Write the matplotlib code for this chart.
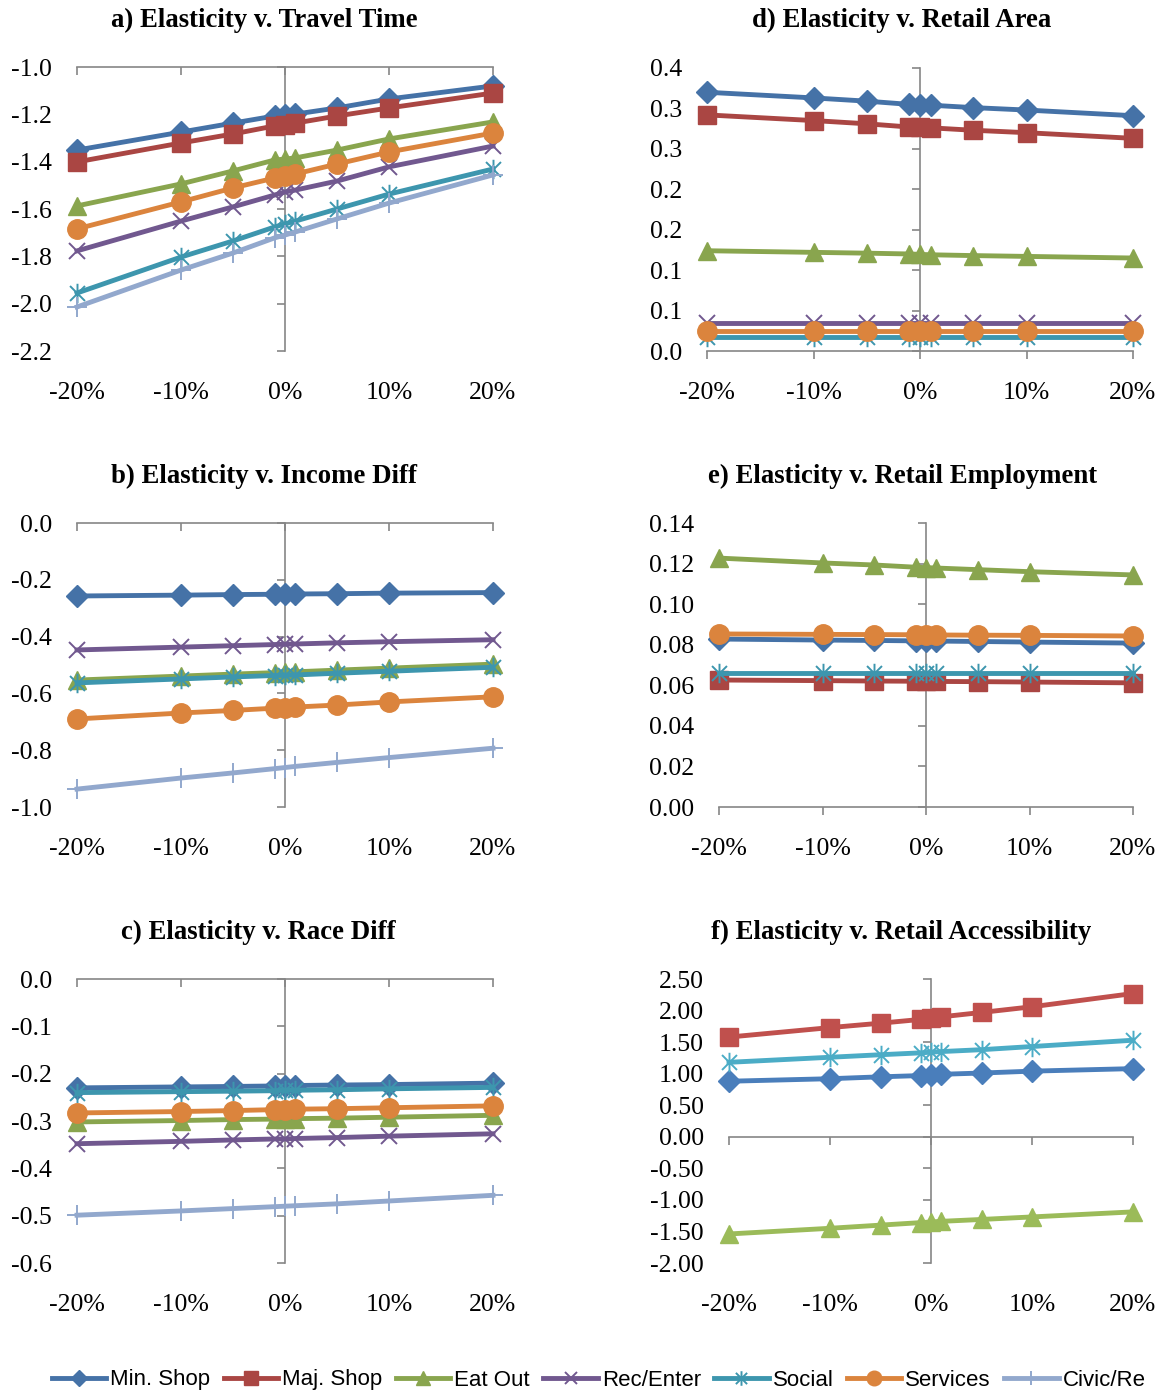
import numpy as np
import matplotlib
matplotlib.use("Agg")
import matplotlib.pyplot as plt
from matplotlib.path import Path
from matplotlib.lines import Line2D

# x positions: change in the input variable
pct_change = [-0.20, -0.10, -0.05, -0.01, 0.0, 0.01, 0.05, 0.10, 0.20]
series_names = ["Min. Shop", "Maj. Shop", "Eat Out", "Rec/Enter", "Social", "Services", "Civic/Re"]

# a) travel time
travel_time = {
    "Min. Shop": [-1.351, -1.275, -1.237, -1.207, -1.203, -1.199, -1.173, -1.135, -1.080],
    "Maj. Shop": [-1.401, -1.321, -1.283, -1.249, -1.245, -1.237, -1.207, -1.173, -1.110],
    "Eat Out":   [-1.587, -1.494, -1.439, -1.393, -1.389, -1.384, -1.351, -1.304, -1.232],
    "Rec/Enter": [-1.777, -1.651, -1.591, -1.541, -1.528, -1.520, -1.482, -1.422, -1.334],
    "Social":    [-1.955, -1.803, -1.735, -1.676, -1.663, -1.651, -1.600, -1.537, -1.431],
    "Services":  [-1.684, -1.570, -1.511, -1.469, -1.461, -1.452, -1.410, -1.359, -1.279],
    "Civic/Re":  [-2.014, -1.858, -1.786, -1.722, -1.710, -1.697, -1.642, -1.575, -1.456],
}
# b) income difference
income_diff = {
    "Min. Shop": [-0.257, -0.254, -0.252, -0.251, -0.250, -0.250, -0.249, -0.247, -0.245],
    "Rec/Enter": [-0.447, -0.437, -0.432, -0.428, -0.427, -0.426, -0.422, -0.418, -0.411],
    "Eat Out":   [-0.553, -0.539, -0.532, -0.527, -0.526, -0.524, -0.518, -0.511, -0.497],
    "Social":    [-0.563, -0.549, -0.542, -0.537, -0.536, -0.535, -0.529, -0.522, -0.508],
    "Services":  [-0.690, -0.669, -0.660, -0.652, -0.650, -0.648, -0.641, -0.630, -0.612],
    "Civic/Re":  [-0.937, -0.898, -0.880, -0.865, -0.861, -0.857, -0.843, -0.826, -0.793],
}
# c) race difference
race_diff = {
    "Min. Shop": [-0.230, -0.228, -0.227, -0.226, -0.225, -0.225, -0.224, -0.223, -0.220],
    "Eat Out":   [-0.302, -0.299, -0.297, -0.296, -0.296, -0.295, -0.294, -0.292, -0.288],
    "Rec/Enter": [-0.348, -0.343, -0.340, -0.338, -0.338, -0.337, -0.335, -0.332, -0.327],
    "Social":    [-0.240, -0.238, -0.237, -0.236, -0.235, -0.235, -0.234, -0.232, -0.229],
    "Services":  [-0.283, -0.280, -0.278, -0.276, -0.276, -0.275, -0.274, -0.272, -0.268],
    "Civic/Re":  [-0.499, -0.490, -0.485, -0.481, -0.480, -0.479, -0.475, -0.469, -0.457],
}
# d) retail area
retail_area = {
    "Min. Shop": [0.320, 0.313, 0.309, 0.305, 0.304, 0.304, 0.301, 0.298, 0.291],
    "Maj. Shop": [0.292, 0.285, 0.281, 0.277, 0.277, 0.276, 0.273, 0.270, 0.263],
    "Eat Out":   [0.124, 0.122, 0.121, 0.120, 0.1195, 0.119, 0.118, 0.117, 0.115],
    "Rec/Enter": [0.035, 0.035, 0.035, 0.035, 0.035, 0.035, 0.035, 0.035, 0.035],
    "Social":    [0.017, 0.017, 0.017, 0.017, 0.017, 0.017, 0.017, 0.017, 0.017],
    "Services":  [0.025, 0.025, 0.025, 0.025, 0.025, 0.025, 0.025, 0.025, 0.025],
}
# e) retail employment
retail_emp = {
    "Min. Shop": [0.0828, 0.0823, 0.0821, 0.0819, 0.0818, 0.0818, 0.0816, 0.0813, 0.0808],
    "Maj. Shop": [0.0626, 0.0623, 0.0621, 0.0620, 0.0620, 0.0619, 0.0618, 0.0616, 0.0612],
    "Eat Out":   [0.1227, 0.1203, 0.1193, 0.1182, 0.1180, 0.1178, 0.1170, 0.1160, 0.1144],
    "Social":    [0.0660, 0.0660, 0.0660, 0.0660, 0.0660, 0.0660, 0.0660, 0.0660, 0.0660],
    "Services":  [0.0853, 0.0851, 0.0850, 0.0849, 0.0849, 0.0848, 0.0847, 0.0846, 0.0843],
}
# f) retail accessibility
retail_access = {
    "Min. Shop": [0.88, 0.92, 0.95, 0.97, 0.98, 0.99, 1.01, 1.04, 1.08],
    "Maj. Shop": [1.58, 1.73, 1.80, 1.86, 1.88, 1.90, 1.97, 2.06, 2.27],
    "Eat Out":   [-1.54, -1.45, -1.40, -1.36, -1.35, -1.34, -1.31, -1.27, -1.19],
    "Social":    [1.18, 1.26, 1.30, 1.33, 1.34, 1.35, 1.38, 1.43, 1.53],
}

x_ticks = [-0.20, -0.10, 0.0, 0.10, 0.20]
x_labels = ["-20%", "-10%", "0%", "10%", "20%"]
d_tick_labels = ["0.0", "0.1", "0.1", "0.2", "0.2", "0.3", "0.3", "0.4"]

# asterisk marker (x with a vertical bar), like Excel's "star"
star = Path([(-1, -1), (1, 1), (-1, 1), (1, -1), (0, -1.3), (0, 1.3)],
            [Path.MOVETO, Path.LINETO, Path.MOVETO, Path.LINETO, Path.MOVETO, Path.LINETO])

colors = {"Min. Shop": "#4572A7", "Maj. Shop": "#AA4643", "Eat Out": "#89A54E",
          "Rec/Enter": "#71588F", "Social": "#3D96AE", "Services": "#DB843D",
          "Civic/Re": "#92A8CD"}
colors_f = {"Min. Shop": "#4A7EBB", "Maj. Shop": "#C0504D", "Eat Out": "#9BBB59",
            "Social": "#4BACC6"}
styles = {"Min. Shop": dict(marker="D", ms=11),
          "Maj. Shop": dict(marker="s", ms=13),
          "Eat Out": dict(marker="^", ms=13),
          "Rec/Enter": dict(marker="x", ms=12, mew=1.4),
          "Social": dict(marker=star, ms=14, mew=1.4),
          "Services": dict(marker="o", ms=14),
          "Civic/Re": dict(marker="+", ms=14, mew=1.4)}

W, H = 1160, 1395
fig = plt.figure(figsize=(W / 100, H / 100), dpi=100)
serif = ["Liberation Serif", "DejaVu Serif"]
axis_gray = "#868686"


def px_axes(l, r, t, b):
    return fig.add_axes([l / W, 1 - b / H, (r - l) / W, (b - t) / H])


def panel(ax, data, ylim, yticks, ylabels, ycross, title, title_x, title_y, cols):
    for name in series_names:
        if name not in data:
            continue
        ax.plot(pct_change, data[name], color=cols[name], mec=cols[name], mfc=cols[name],
                lw=3.5, clip_on=False, zorder=3, **styles[name])
    ax.set_xlim(-0.2, 0.2)
    ax.set_ylim(*ylim)
    for s in ax.spines.values():
        s.set_visible(False)
    # axes lines crossing like in Excel
    ax.plot([-0.2, 0.2], [ycross, ycross], color=axis_gray, lw=1.2, clip_on=False, zorder=2)
    ax.plot([0, 0], list(ylim), color=axis_gray, lw=1.2, clip_on=False, zorder=2)
    ax.plot([0] * len(yticks), yticks, ls="none", marker=0, ms=6, mew=1.2,
            color=axis_gray, clip_on=False, zorder=2)
    ax.plot(x_ticks, [ycross] * len(x_ticks), ls="none", marker=3, ms=6, mew=1.2,
            color=axis_gray, clip_on=False, zorder=2)
    ax.set_yticks(yticks)
    ax.set_yticklabels(ylabels, fontfamily=serif, fontsize=18.5)
    ax.set_xticks(x_ticks)
    ax.set_xticklabels(x_labels, fontfamily=serif, fontsize=18.5)
    ax.tick_params(axis="y", length=0, pad=18)
    ax.tick_params(axis="x", length=0, pad=22)
    fig.text(title_x / W, 1 - title_y / H, title, ha="center", va="center",
             fontfamily=serif, fontweight="bold", fontsize=19.3)


ax_a = px_axes(77, 493, 67, 351)
yt = [-2.2, -2.0, -1.8, -1.6, -1.4, -1.2, -1.0]
panel(ax_a, travel_time, (-2.2, -1.0), yt, ["%.1f" % v for v in yt], -1.0,
      "a) Elasticity v. Travel Time", 264, 20, colors)

ax_b = px_axes(77, 493, 523, 807)
yt = [-1.0, -0.8, -0.6, -0.4, -0.2, 0.0]
panel(ax_b, income_diff, (-1.0, 0.0), yt, ["%.1f" % v for v in yt], 0.0,
      "b) Elasticity v. Income Diff", 264, 476, colors)

ax_c = px_axes(77, 493, 979, 1263)
yt = [-0.6, -0.5, -0.4, -0.3, -0.2, -0.1, 0.0]
panel(ax_c, race_diff, (-0.6, 0.0), yt, ["%.1f" % v for v in yt], 0.0,
      "c) Elasticity v. Race Diff", 258, 932, colors)

ax_d = px_axes(707, 1133, 68, 351)
yt = [0.0, 0.05, 0.10, 0.15, 0.20, 0.25, 0.30, 0.35]
panel(ax_d, retail_area, (0.0, 0.35), yt, d_tick_labels, 0.0,
      "d) Elasticity v. Retail Area", 902, 20, colors)

ax_e = px_axes(719, 1133, 523, 807)
yt = [0.0, 0.02, 0.04, 0.06, 0.08, 0.10, 0.12, 0.14]
panel(ax_e, retail_emp, (0.0, 0.14), yt, ["%.2f" % v for v in yt], 0.0,
      "e) Elasticity v. Retail Employment", 903, 476, colors)

ax_f = px_axes(729, 1133, 979, 1263)
yt = [-2.0, -1.5, -1.0, -0.5, 0.0, 0.5, 1.0, 1.5, 2.0, 2.5]
panel(ax_f, retail_access, (-2.0, 2.5), yt, ["%.2f" % v for v in yt], 0.0,
      "f) Elasticity v. Retail Accessibility", 901, 932, colors_f)

handles = [Line2D([], [], color=colors[n], mec=colors[n], mfc=colors[n], lw=3.5,
                  **dict(styles[n], ms=styles[n]["ms"] * 0.75)) for n in series_names]
fig.legend(handles, series_names, loc="center left", bbox_to_anchor=(52 / W, 1 - 1380 / H),
           ncol=7, frameon=False, handlelength=2.45, handletextpad=0.18, columnspacing=0.6,
           borderpad=0, borderaxespad=0,
           prop={"family": ["Liberation Sans", "DejaVu Sans"], "size": 16})

fig.savefig("out.png", dpi=100)
